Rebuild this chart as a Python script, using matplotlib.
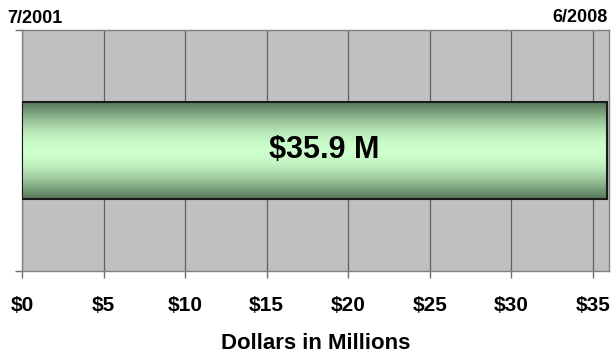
import numpy as np
import matplotlib.pyplot as plt
from matplotlib.colors import LinearSegmentedColormap
from matplotlib.transforms import offset_copy

plt.rcParams['font.family'] = ['Liberation Sans', 'DejaVu Sans']

# funding total over the period
total = 35.9
start_label = "7/2001"
end_label = "6/2008"
ticks = [0, 5, 10, 15, 20, 25, 30, 35]
tick_labels = ["$" + str(t) for t in ticks]

fig = plt.figure(figsize=(6.15, 3.55), dpi=100)
ax = fig.add_axes([0.0358, 0.2366, 0.9545, 0.679])
ax.set_facecolor("#c0c0c0")

bar_h = 0.4
bars = ax.barh([0], [total], height=bar_h, facecolor="none",
               edgecolor="#1a1a1a", linewidth=1.5, zorder=4)

# vertical green gradient inside the bar (dark edges, light middle)
t = np.linspace(0, 1, 256)
profile = np.sin(np.pi * t)
grad = profile.reshape(-1, 1)
cmap = LinearSegmentedColormap.from_list("tube", ["#56765a", "#8fb98f", "#ccffcc"])
ax.imshow(grad, cmap=cmap, aspect="auto", extent=[0, total, -bar_h / 2, bar_h / 2],
          origin="lower", zorder=3, interpolation="bilinear")

label_tr = offset_copy(ax.transData, fig=fig, x=9, y=0, units="dots")
ax.text(total / 2, 0, "$%.1f M" % total, ha="center", va="center",
        fontsize=22, fontweight="bold", zorder=5, transform=label_tr)

ax.set_xlim(0, 36)
ax.set_ylim(-0.5, 0.5)
ax.set_xticks(ticks)
ax.set_xticklabels(tick_labels, fontsize=15, fontweight="bold")
ax.set_yticks([-0.5, 0.5])
ax.set_yticklabels([])
ax.tick_params(axis="x", length=5, width=1, color="#707070", pad=13)
ax.tick_params(axis="y", length=5, width=1, color="#707070")
ax.grid(axis="x", color="#606060", linewidth=0.9, zorder=1)
ax.set_axisbelow(True)
for s in ax.spines.values():
    s.set_color("#808080")
    s.set_linewidth(1)

ax.set_xlabel("Dollars in Millions", fontsize=16, fontweight="bold", labelpad=13)

fig.text(7 / 615, 1 - 18.5 / 355, start_label, ha="left", va="center",
         fontsize=13, fontweight="bold")
fig.text(608 / 615, 1 - 17.5 / 355, end_label, ha="right", va="center",
         fontsize=13, fontweight="bold")

fig.savefig("out.png", dpi=100)
